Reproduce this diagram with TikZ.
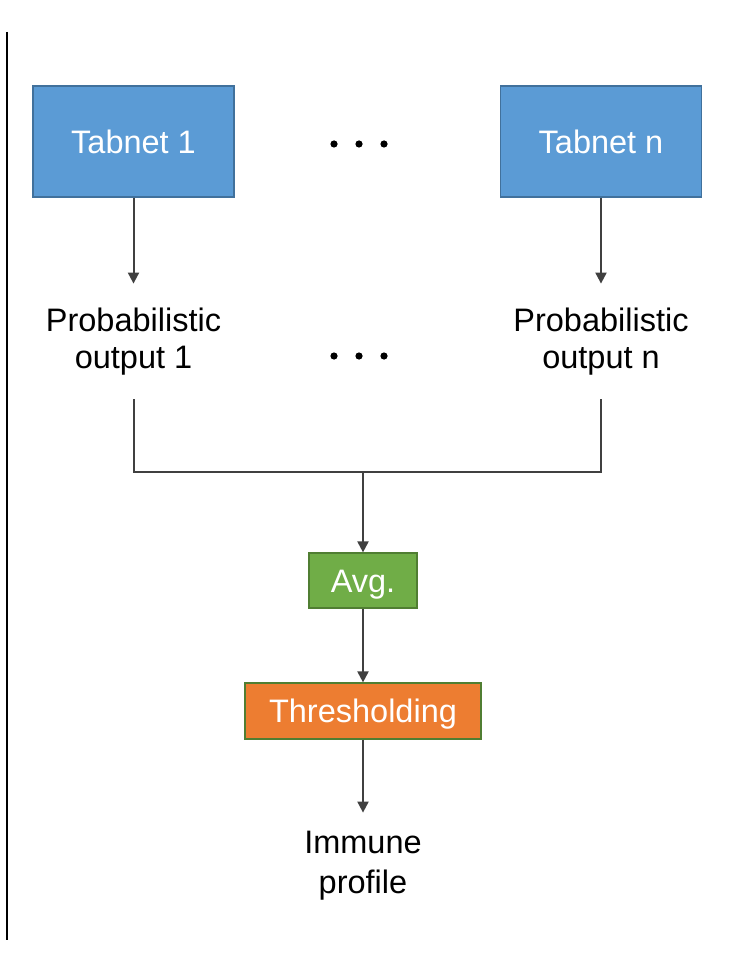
\documentclass[tikz,border=0pt]{standalone}
\usepackage{fontspec}
\setmainfont{Liberation Sans}
\usetikzlibrary{arrows.meta,positioning}
\definecolor{tabblue}{HTML}{5B9BD5}
\definecolor{tabedge}{HTML}{41719C}
\definecolor{avggreen}{HTML}{70AD47}
\definecolor{avgedge}{HTML}{507E32}
\definecolor{throrange}{HTML}{ED7D31}
\definecolor{arrgray}{HTML}{404040}

\begin{document}
\begin{tikzpicture}[
  x=1pt, y=-1pt,
  every node/.style={font=\fontsize{32.5}{37}\selectfont},
  model/.style={draw=tabedge, line width=1.2pt, fill=tabblue, text=white,
                minimum width=201pt, minimum height=111pt, inner sep=0pt,
                text height=23.4pt, text depth=0pt},
  calc/.style={draw=avgedge, line width=1.2pt, text=white, inner sep=0pt,
               text height=23.4pt, text depth=0pt},
  result/.style={align=center, inner xsep=0pt},
  arr/.style={-{Triangle[length=11pt,width=11pt]}, line width=2pt, draw=arrgray},
  link/.style={line width=2pt, draw=arrgray}]
  \useasboundingbox (0,0) rectangle (732,957);
  \coordinate (railtop) at (7,32);
  \coordinate (railbot) at (7,940);
  \draw[line width=2.5pt] (railtop) -- (railbot);
  \node[model] (tab1) at (133.5,141.5) {Tabnet 1};
  \node[model] (tabn) at (601,141.5) {Tabnet n};
  \node[result, inner ysep=24pt, below=86pt of tab1.south, anchor=north] (prob1) {Probabilistic\\ output 1};
  \node[result, inner ysep=24pt, below=86pt of tabn.south, anchor=north] (probn) {Probabilistic\\ output n};
  \foreach \x in {334,359,384} {
    \fill (\x,144) circle (3.6);
    \fill (\x,356) circle (3.6);
  }
  \coordinate (merge) at (363,472);
  \node[calc, fill=avggreen, minimum width=108pt, minimum height=55pt] (avg) at (363,580.5) {Avg.};
  \node[calc, fill=throrange, minimum width=236pt, minimum height=56pt] (thr) at (363,711) {Thresholding};
  \node[result, font=\fontsize{32.5}{40}\selectfont, inner ysep=18pt, below=73pt of thr.south, anchor=north] (imm) {Immune\\ profile};
  \draw[arr] (tab1) -- (prob1);
  \draw[arr] (tabn) -- (probn);
  \draw[link] (prob1.south) |- (merge);
  \draw[link] (probn.south) |- (merge);
  \draw[arr] (merge) -- (avg);
  \draw[arr] (avg) -- (thr);
  \draw[arr] (thr) -- (imm);
\end{tikzpicture}
\end{document}
